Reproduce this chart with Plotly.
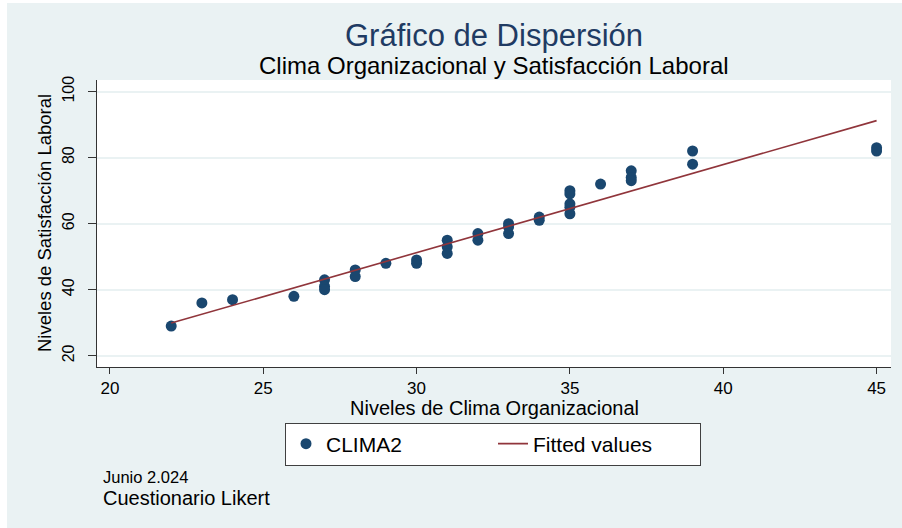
import plotly.graph_objects as go

# ---- data ----
clima = [22, 23, 24, 26, 27, 27, 27, 28, 28, 29, 30, 30, 31, 31, 31, 32, 32,
         33, 33, 33, 34, 34, 35, 35, 35, 35, 35, 36, 37, 37, 37, 39, 39, 45, 45]
satisf = [29, 36, 37, 38, 43, 41, 40, 46, 44, 48, 49, 48, 55, 53, 51, 57, 55,
          60, 59, 57, 62, 61, 70, 69, 66, 65, 63, 72, 76, 74, 73, 82, 78, 83, 82]
fit_x = [22, 45]
fit_y = [29.9, 91.2]
x_ticks = [20, 25, 30, 35, 40, 45]
y_ticks = [20, 40, 60, 80, 100]

FONT = "Liberation Sans, Arial, sans-serif"
BG = "#eaf2f3"
NAVY = "#1a476f"
MAROON = "#90353b"

# plot region in pixels
L, R, T, B = 97, 891, 80, 367
W, H = 902, 528


def px(x):
    return (x - L) / (R - L)


def py(y):
    return (B - y) / (B - T)


fig = go.Figure()
fig.add_trace(go.Scatter(
    x=clima, y=satisf, mode="markers", name="CLIMA2",
    marker=dict(color=NAVY, size=11, line=dict(width=0)),
))
fig.add_trace(go.Scatter(
    x=fit_x, y=fit_y, mode="lines", name="Fitted values",
    line=dict(color=MAROON, width=1.6),
))

annotations = [
    dict(text="Gráfico de Dispersión", x=px(494), y=py(36), font=dict(size=31, color="#1f3b63")),
    dict(text="Clima Organizacional y Satisfacción Laboral", x=px(494), y=py(66),
         font=dict(size=24, color="#000000")),
    dict(text="Niveles de Clima Organizacional", x=px(494), y=py(408),
         font=dict(size=20, color="#000000")),
    dict(text="Niveles de Satisfacción Laboral", x=px(44), y=py(223), textangle=-90,
         font=dict(size=18.5, color="#000000")),
    dict(text="Junio 2.024", x=px(101), y=py(477), xanchor="left",
         font=dict(size=16.5, color="#000000")),
    dict(text="Cuestionario Likert", x=px(101), y=py(498), xanchor="left",
         font=dict(size=20, color="#000000")),
]
for a in annotations:
    a.setdefault("xanchor", "center")
    a.update(xref="paper", yref="paper", yanchor="middle", showarrow=False)
    a["font"]["family"] = FONT

fig.update_layout(
    width=W, height=H,
    margin=dict(l=L, r=W - R, t=T, b=H - B, autoexpand=False),
    paper_bgcolor=BG, plot_bgcolor="#ffffff",
    font=dict(family=FONT, color="#000000"),
    showlegend=True,
    legend=dict(
        orientation="h", x=px(493), xanchor="center", y=py(444), yanchor="middle",
        bgcolor="#ffffff", bordercolor="#404040", borderwidth=1,
        font=dict(size=21, family=FONT, color="#000000"),
        itemwidth=30, entrywidth=162,
    ),
    annotations=annotations,
    shapes=[
        dict(type="rect", xref="paper", yref="paper", x0=px(0), x1=px(7), y0=py(528), y1=py(0),
             fillcolor="#ffffff", line=dict(width=0), layer="above"),
        dict(type="rect", xref="paper", yref="paper", x0=px(0), x1=px(902), y0=py(3), y1=py(0),
             fillcolor="#ffffff", line=dict(width=0), layer="above"),
    ],
)

fig.update_xaxes(
    range=[19.58, 45.47], tickvals=x_ticks, ticktext=[str(v) for v in x_ticks],
    showgrid=False, zeroline=False,
    showline=True, linecolor="#333333", linewidth=1,
    ticks="outside", ticklen=6, tickcolor="#333333", tickwidth=1,
    tickfont=dict(size=17, family=FONT, color="#000000"),
)
fig.update_yaxes(
    range=[16.6, 103.5], tickvals=y_ticks, ticktext=[str(v) for v in y_ticks],
    showgrid=True, gridcolor=BG, gridwidth=1.5, zeroline=False,
    showline=True, linecolor="#333333", linewidth=1,
    ticks="outside", ticklen=8, tickcolor="#333333", tickwidth=1,
    tickangle=-90, ticklabelstandoff=8,
    tickfont=dict(size=16, family=FONT, color="#000000"),
)

fig.write_html("out.html", config={"displayModeBar": False},
               post_script="document.body.style.margin='0';")
